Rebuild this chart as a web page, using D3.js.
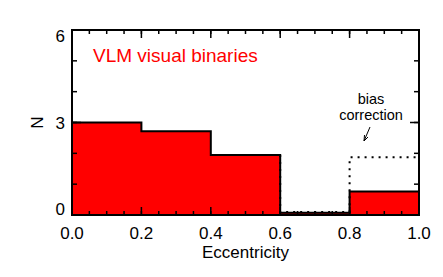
<!DOCTYPE html>
<html>
<head>
  <meta charset="utf-8">
  <script src="https://d3js.org/d3.v7.min.js"></script>
  <style>
    body { margin: 0; background: #fff; }
    text { font-family: "Liberation Sans", Arial, sans-serif; }
  </style>
</head>
<body>
  <script>
    // bin edges and counts
    var binStart = [0.0, 0.2, 0.4, 0.6, 0.8];
    var counts = [3.0, 2.72, 1.95, 0.07, 0.76];
    var corrected = [3.0, 2.72, 1.95, 0.1, 1.87];
    var xTicks = [0.0, 0.2, 0.4, 0.6, 0.8, 1.0];
    var yTicks = [0, 3, 6];

    var w = 443, h = 277;
    var margin = {top: 30, right: 24, bottom: 62, left: 72};
    var innerW = 419 - margin.left, innerH = 215 - margin.top;
    var binW = 0.2;

    var x = d3.scaleLinear().domain([0, 1]).range([0, innerW]);
    var y = d3.scaleLinear().domain([0, 6]).range([innerH, 0]);

    var svg = d3.select('body').append('svg')
      .attr('width', w).attr('height', h);
    var g = svg.append('g')
      .attr('transform', 'translate(' + [margin.left, margin.top] + ')');

    // step outline for a histogram
    function stepLine(vals) {
      var pts = [[0, 0]];
      vals.forEach(function (v, i) {
        pts.push([binStart[i], v]);
        pts.push([binStart[i] + binW, v]);
      });
      pts.push([1, 0]);
      return pts;
    }

    var line = d3.line().x(function (d) { return x(d[0]); }).y(function (d) { return y(d[1]); });

    // filled histogram as one shape (no seams between bins)
    g.append('path')
      .attr('d', line(stepLine(counts)) + 'Z')
      .attr('fill', '#ff0000');

    // dotted bias-corrected histogram where it differs
    var corrPts = [[0.6, counts[2]]];
    corrected.forEach(function (v, i) {
      if (i >= 3) {
        corrPts.push([binStart[i], v]);
        corrPts.push([binStart[i] + binW, v]);
      }
    });
    g.append('path')
      .attr('d', line(corrPts))
      .attr('fill', 'none').attr('stroke', '#000').attr('stroke-width', 2)
      .attr('stroke-dasharray', '2,5');

    g.append('path')
      .attr('d', line(stepLine(counts)))
      .attr('fill', 'none').attr('stroke', '#000').attr('stroke-width', 2);

    // inward ticks on all four sides
    var xMinor = d3.range(0, 1.0001, 0.05);
    var yMinor = d3.range(0, 6.0001, 1);

    function tickMarks(vals, len, cls) {
      g.selectAll('.xb' + cls).data(vals).enter().append('line')
        .attr('x1', function (d) { return x(d); }).attr('x2', function (d) { return x(d); })
        .attr('y1', innerH).attr('y2', innerH - len);
      g.selectAll('.xt' + cls).data(vals).enter().append('line')
        .attr('x1', function (d) { return x(d); }).attr('x2', function (d) { return x(d); })
        .attr('y1', 0).attr('y2', len);
    }
    function tickMarksY(vals, len, cls) {
      g.selectAll('.yl' + cls).data(vals).enter().append('line')
        .attr('y1', function (d) { return y(d); }).attr('y2', function (d) { return y(d); })
        .attr('x1', 0).attr('x2', len);
      g.selectAll('.yr' + cls).data(vals).enter().append('line')
        .attr('y1', function (d) { return y(d); }).attr('y2', function (d) { return y(d); })
        .attr('x1', innerW).attr('x2', innerW - len);
    }
    tickMarks(xMinor, 4, 'm');
    tickMarks(xTicks, 8, 'M');
    tickMarksY(yMinor, 5, 'm');
    tickMarksY(yTicks, 9, 'M');
    g.selectAll('line').attr('stroke', '#000').attr('stroke-width', 1.5);

    g.append('rect')
      .attr('width', innerW).attr('height', innerH)
      .attr('fill', 'none').attr('stroke', '#000').attr('stroke-width', 2);

    g.selectAll('.xl').data(xTicks).enter().append('text')
      .attr('x', function (d) { return x(d); })
      .attr('y', innerH + 24)
      .attr('text-anchor', 'middle')
      .attr('font-size', 17)
      .text(function (d) { return d3.format('.1f')(d); });

    g.selectAll('.yl').data(yTicks).enter().append('text')
      .attr('x', -7)
      .attr('y', function (d) { return Math.min(innerH, Math.max(12, y(d) + 6)); })
      .attr('text-anchor', 'end')
      .attr('font-size', 17)
      .text(function (d) { return d; });

    svg.append('text')
      .attr('x', margin.left + innerW / 2).attr('y', 258)
      .attr('text-anchor', 'middle').attr('font-size', 17)
      .text('Eccentricity');

    svg.append('text')
      .attr('transform', 'translate(43,' + (margin.top + y(3)) + ') rotate(-90)')
      .attr('text-anchor', 'middle').attr('font-size', 17)
      .text('N');

    svg.append('text')
      .attr('x', 93).attr('y', 62)
      .attr('fill', '#ff0000').attr('font-size', 19)
      .text('VLM visual binaries');

    svg.append('text')
      .attr('x', 371).attr('y', 104)
      .attr('text-anchor', 'middle').attr('font-size', 14.5)
      .text('bias');
    svg.append('text')
      .attr('x', 371).attr('y', 120)
      .attr('text-anchor', 'middle').attr('font-size', 14.5)
      .text('correction');

    // small arrow
    svg.append('path')
      .attr('d', 'M370,127 L364,141 M364,141 L364.5,135 M364,141 L368,137')
      .attr('fill', 'none').attr('stroke', '#000').attr('stroke-width', 1);
  </script>
</body>
</html>
